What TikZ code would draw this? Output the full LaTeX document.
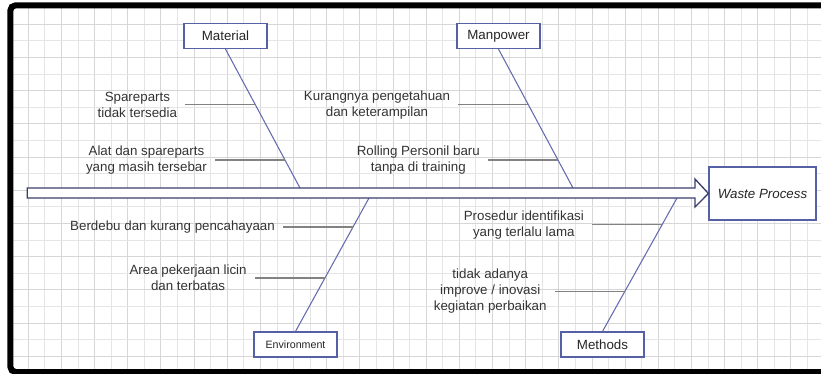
\documentclass[tikz,border=0pt]{standalone}
\usepackage{fontspec}
\setmainfont{Liberation Sans}
\usetikzlibrary{positioning,calc}

\definecolor{boxblue}{RGB}{86,96,164}
\definecolor{bonecol}{RGB}{100,108,176}
\definecolor{spinecol}{RGB}{58,62,110}
\definecolor{twigcol}{RGB}{130,130,130}
\definecolor{txtcol}{RGB}{51,51,51}

\tikzset{
  catbox/.style={draw=boxblue, fill=white, line width=0.9pt, minimum width=62.25pt,
    minimum height=18.75pt, inner sep=0pt, text=black!85, font=\fontsize{10}{12}\selectfont},
  effectbox/.style={catbox, minimum width=80.25pt, minimum height=39.75pt,
    font=\fontsize{10}{12}\selectfont\itshape},
  bone/.style={draw=bonecol, line width=0.8pt},
  twig/.style={draw=twigcol, line width=1.1pt},
  cause/.style={align=center, inner sep=0pt, text=txtcol, font=\fontsize{10}{12}\selectfont},
}

\begin{document}
\begin{tikzpicture}[x=0.75pt, y=-0.75pt, node distance=6pt]
\useasboundingbox (0,0) rectangle (821,374);
\clip (0,0) rectangle (821,374);

% grid paper
\foreach \k in {0,2,...,48}
  \draw[black!16, line width=0.75pt] ({28.3+16.58*\k},8) -- ({28.3+16.58*\k},370);
\foreach \k in {1,3,...,47}
  \draw[black!10, line width=0.75pt] ({28.3+16.58*\k},8) -- ({28.3+16.58*\k},370);
\foreach \k in {0,2,...,20}
  \draw[black!16, line width=0.75pt] (13,{24.3+16.6*\k}) -- (821,{24.3+16.6*\k});
\foreach \k in {1,3,...,19}
  \draw[black!10, line width=0.75pt] (13,{24.3+16.6*\k}) -- (821,{24.3+16.6*\k});

% frame
\draw[line width=4.5pt, rounded corners=4pt] (10.3,5.3) rectangle (860,372);

% categories
\node[catbox] (material) at (225.5,36) {Material};
\node[catbox] (manpower) at (498.5,36) {Manpower};
\node[catbox, font=\fontsize{8}{10}\selectfont] (environment) at (295.5,344.5) {Environment};
\node[catbox] (methods) at (602.5,344.5) {Methods};

\coordinate (matjoint) at (300,188);
\coordinate (manjoint) at (573,188);
\coordinate (envjoint) at (369,198);
\coordinate (metjoint) at (677,198);

% main bones
\draw[bone] (material.south) -- (matjoint);
\draw[bone] (manpower.south) -- (manjoint);
\draw[bone] (envjoint) -- (environment.north);
\draw[bone] (metjoint) -- (methods.north);

% causes
\draw[twig] ($(material.south)!0.4!(matjoint)$) -- ++(-70,0) coordinate (mat1);
\node[cause, left=of mat1] (matcause1) {Spareparts\\tidak tersedia};
\draw[twig] ($(material.south)!0.8!(matjoint)$) -- ++(-70,0) coordinate (mat2);
\node[cause, left=of mat2] (matcause2) {Alat dan spareparts\\yang masih tersebar};

\draw[twig] ($(manpower.south)!0.4!(manjoint)$) -- ++(-70,0) coordinate (man1);
\node[cause, left=of man1] (mancause1) {Kurangnya pengetahuan\\dan keterampilan};
\draw[twig] ($(manpower.south)!0.8!(manjoint)$) -- ++(-70,0) coordinate (man2);
\node[cause, left=of man2] (mancause2) {Rolling Personil baru\\tanpa di training};

\draw[twig] ($(envjoint)!0.216!(environment.north)$) -- ++(-70,0) coordinate (env1);
\node[cause, left=of env1] (envcause1) {Berdebu dan kurang pencahayaan};
\draw[twig] ($(envjoint)!0.6!(environment.north)$) -- ++(-70,0) coordinate (env2);
\node[cause, left=of env2] (envcause2) {Area pekerjaan licin\\dan terbatas};

\draw[twig] ($(metjoint)!0.2!(methods.north)$) -- ++(-70,0) coordinate (met1);
\node[cause, left=of met1] (metcause1) {Prosedur identifikasi\\yang terlalu lama};
\draw[twig] ($(metjoint)!0.7!(methods.north)$) -- ++(-70,0) coordinate (met2);
\node[cause, left=of met2] (metcause2) {tidak adanya\\improve / inovasi\\kegiatan perbaikan};

% effect and spine
\node[effectbox] (waste) at (762.5,193.5) {Waste Process};
\draw[spinecol, line width=1pt, fill=white, line join=miter]
  (27.3,188) -- (695,188) -- (695,179) -- (waste.west) -- (695,207) -- (695,198) -- (27.3,198) -- cycle;
\end{tikzpicture}
\end{document}
